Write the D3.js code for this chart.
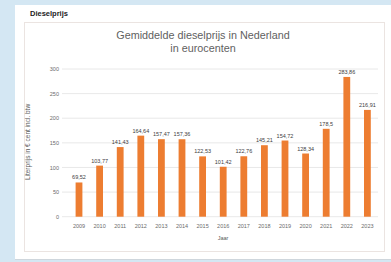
<!DOCTYPE html>
<html><head><meta charset="utf-8">
<script src="https://cdn.jsdelivr.net/npm/d3@7"></script>
<style>html,body{margin:0;padding:0;background:#d4e7f3;}svg{display:block;}</style>
</head><body>
<svg id="c" width="391" height="262"></svg>
<script>
const years = ["2009","2010","2011","2012","2013","2014","2015","2016","2017","2018","2019","2020","2021","2022","2023"];
const prices = [69.52,103.77,141.43,164.64,157.47,157.36,122.53,101.42,122.76,145.21,154.72,128.34,178.5,283.86,216.91];
const priceLabels = ["69,52","103,77","141,43","164,64","157,47","157,36","122,53","101,42","122,76","145,21","154,72","128,34","178,5","283,86","216,91"];
const yTicks = [0,50,100,150,200,250,300];
const pageTitle = "Dieselprijs";
const chartTitle = ["Gemiddelde dieselprijs in Nederland","in eurocenten"];
const yTitle = "Literprijs in € cent incl. btw";
const xTitle = "Jaar";

const svg = d3.select("#c");
const font = "'Liberation Sans', Arial, sans-serif";

// panel
svg.append("rect").attr("x",15).attr("y",5).attr("width",376).attr("height",255).attr("fill","#ffffff");
svg.append("line").attr("x1",15).attr("x2",391).attr("y1",259.5).attr("y2",259.5).attr("stroke","#cfd6dc");
svg.append("rect").attr("x",24.5).attr("y",22.5).attr("width",360).attr("height",229).attr("fill","#fff").attr("stroke","#ebe4e1");

svg.append("text").attr("x",30).attr("y",16).text(pageTitle)
  .attr("font-family",font).attr("font-weight","bold").attr("font-size",7.5).attr("fill","#222");

const x = d3.scaleBand().domain(years).range([68.7,377.7]).paddingInner(0.67).paddingOuter(0.335);
const y = d3.scaleLinear().domain([0,300]).range([216.7,69]);

// grid
svg.append("g").selectAll("line").data(yTicks).join("line")
  .attr("x1",62).attr("x2",378).attr("y1",d=>y(d)).attr("y2",d=>y(d))
  .attr("stroke","#e2e2e2").attr("stroke-width",0.8);

// y axis
const ya = svg.append("g").attr("transform","translate(60,0)")
  .call(d3.axisLeft(y).tickValues(yTicks).tickSize(0).tickPadding(1).tickFormat(d=>d));
ya.select(".domain").remove();
ya.selectAll("text").attr("font-family",font).attr("font-size",5.5).attr("fill","#6b6b6b");

// x axis
const xa = svg.append("g").attr("transform","translate(0,222)")
  .call(d3.axisBottom(x).tickSize(0).tickPadding(2));
xa.select(".domain").remove();
xa.selectAll("text").attr("font-family",font).attr("font-size",5.5).attr("fill","#6b6b6b");

// bars
svg.append("g").selectAll("rect").data(prices).join("rect")
  .attr("x",(d,i)=>x(years[i])).attr("width",x.bandwidth())
  .attr("y",d=>y(d)).attr("height",d=>y(0)-y(d)).attr("fill","#ed7d31");

// labels
svg.append("g").selectAll("text").data(prices).join("text")
  .attr("x",(d,i)=>x(years[i])+x.bandwidth()/2).attr("y",d=>y(d)-3)
  .attr("text-anchor","middle").attr("font-family",font).attr("font-size",5.5).attr("fill","#404040")
  .text((d,i)=>priceLabels[i]);

// titles
svg.append("g").selectAll("text").data(chartTitle).join("text")
  .attr("x",203).attr("y",(d,i)=>39+i*13).attr("text-anchor","middle")
  .attr("font-family",font).attr("font-size",10.8).attr("fill","#5f5f5f").text(d=>d);

svg.append("text").attr("transform","translate(30,142) rotate(-90)").attr("text-anchor","middle")
  .attr("font-family",font).attr("font-size",6.5).attr("fill","#595959").text(yTitle);
svg.append("text").attr("x",223).attr("y",240).attr("text-anchor","middle")
  .attr("font-family",font).attr("font-size",5.5).attr("fill","#595959").text(xTitle);
</script>
</body></html>
